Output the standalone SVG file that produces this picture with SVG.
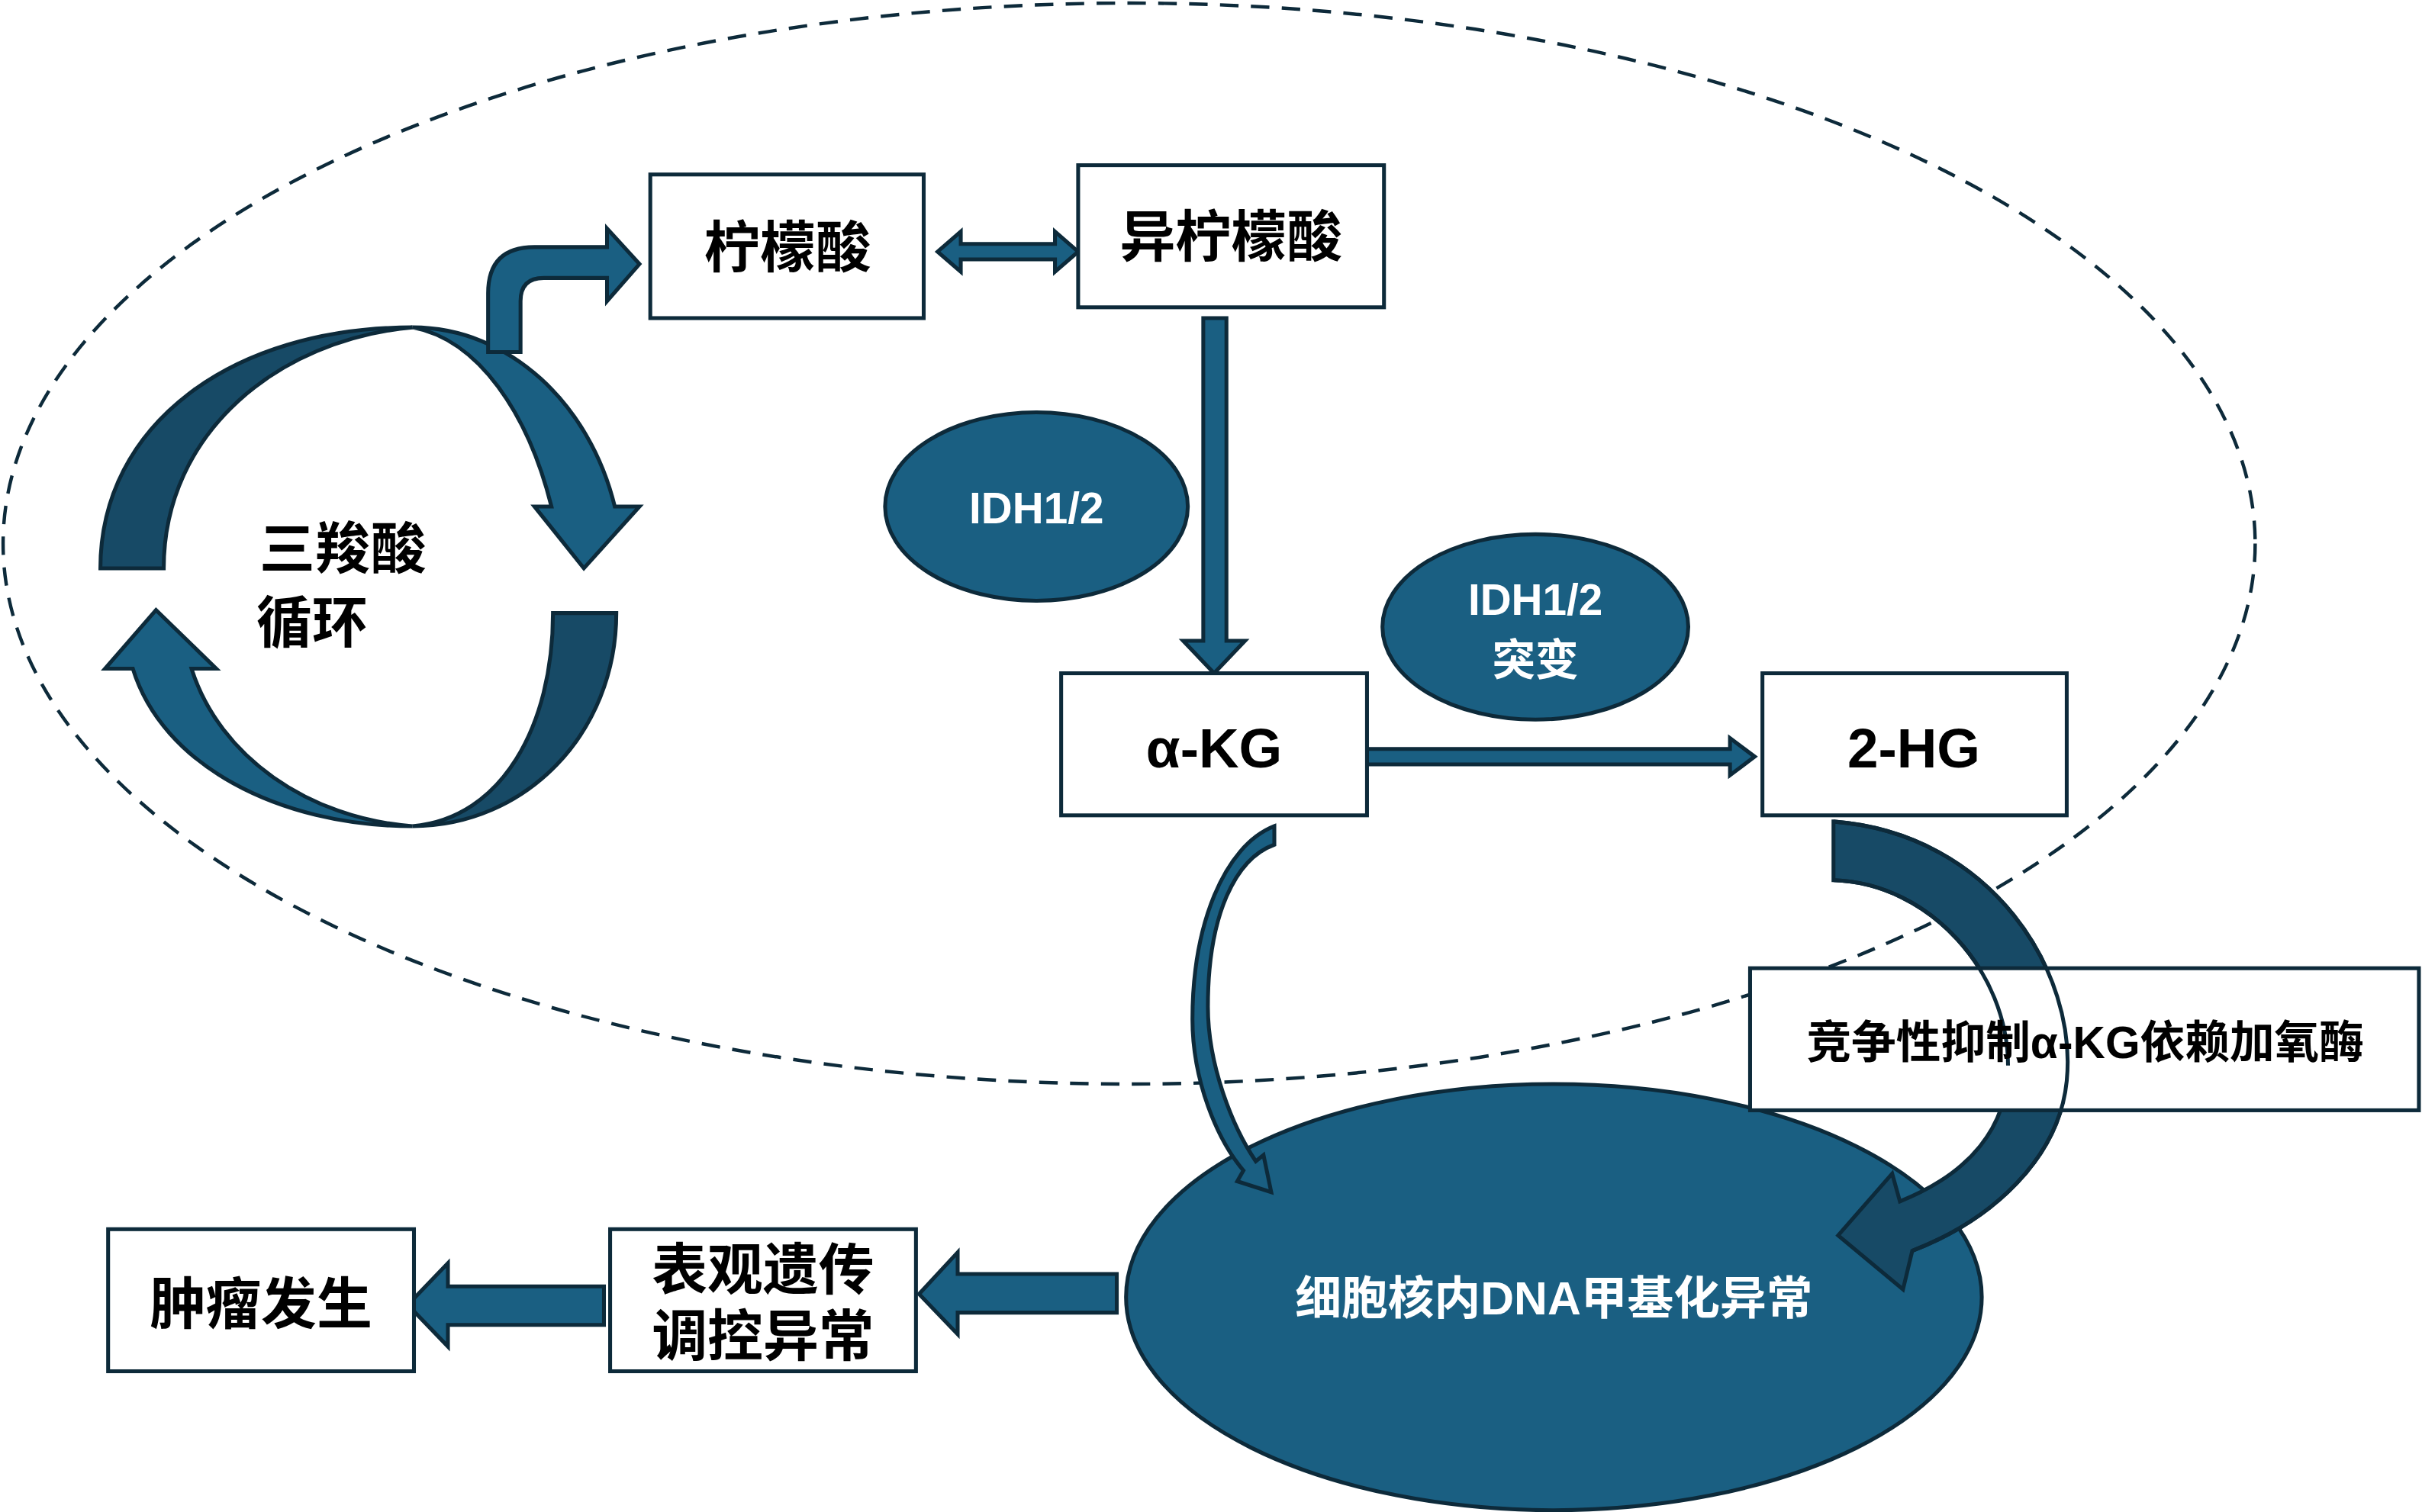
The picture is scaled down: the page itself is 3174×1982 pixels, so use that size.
<svg xmlns="http://www.w3.org/2000/svg" width="3174" height="1982" viewBox="0 0 3174 1982">
<style>
.box{fill:#fff;stroke:#0d2a3a;stroke-width:2.5}
.a{fill:#1a5f82;stroke:#0d2a3a;stroke-width:2.5;stroke-linejoin:miter}
.d{fill:#174a66;stroke:#0d2a3a;stroke-width:2.5}
.t{font-family:"Liberation Sans","Noto Sans CJK SC",sans-serif;font-weight:bold;fill:#000;text-anchor:middle}
.w{font-family:"Liberation Sans","Noto Sans CJK SC",sans-serif;font-weight:bold;fill:#fff;text-anchor:middle}
</style>
<rect width="3174" height="1982" fill="#fff"/>
<g transform="scale(2.02423)">
<ellipse id="boundary" cx="731" cy="352" rx="729" ry="350" fill="none" stroke="#0d2a3a" stroke-width="2.2" stroke-dasharray="12,8"/>
<g id="connectors">
<path class="d" d="M65,368 C65,275 150,212 267,212 C180,220 106,280 106,368 Z"/>
<path class="a" d="M267,212 C330,212 382,262 398,328 L414,328 L378,368 L346,328 L357,328 C342,268 310,220 267,212 Z"/>
<path class="d" d="M399,397 C399,475 340,535 267,535 C325,530 358,470 358,397 Z"/>
<path class="a" d="M267,535 C180,535 105,495 86,433 L68,433 L101,395 L140,433 L124,433 C142,490 200,530 267,535 Z"/>
<path class="a" d="M316,228 L316,190 Q316,160 346,160 L393,160 L393,148 L414,171 L393,195 L393,180 L352,180 Q337,180 337,195 L337,228 Z"/>
<path class="a" d="M607,163 L622,150 L622,158 L683,158 L683,150 L698,163 L683,176 L683,168 L622,168 L622,176 Z"/>
<path class="a" d="M779,206 L794,206 L794,415 L806,415 L786,436 L766,415 L779,415 Z"/>
<path class="a" d="M885,485 L1120,485 L1120,478 L1136,490 L1120,502 L1120,495 L885,495 Z"/>
<path class="a" d="M723,825 L620,825 L620,811 L595,838 L620,864 L620,850 L723,850 Z"/>
<path class="a" d="M391,833 L290,833 L290,818 L264,845 L290,872 L290,858 L391,858 Z"/>
</g>
<g id="n-citrate"><rect class="box" x="421" y="113" width="177" height="93"/><text class="t" x="510" y="173" font-size="36">柠檬酸</text></g>
<g id="n-isocitrate"><rect class="box" x="698" y="107" width="198" height="92"/><text class="t" x="797" y="166" font-size="36">异柠檬酸</text></g>
<g id="n-tca"><text class="t" x="222" y="368" font-size="36">三羧酸</text><text class="t" x="202" y="416" font-size="36">循环</text></g>
<g id="n-idh"><ellipse class="a" cx="671" cy="328" rx="98" ry="61"/><text class="w" x="671" y="339" font-size="28" font-weight="normal">IDH1/2</text></g>
<g id="n-idhmut"><ellipse class="a" cx="994" cy="406" rx="99" ry="60"/><text class="w" x="994" y="398" font-size="28">IDH1/2</text><text class="w" x="994" y="437" font-size="28">突变</text></g>
<g id="n-akg"><rect class="box" x="687" y="436" width="198" height="92"/><text class="t" x="786" y="497" font-size="36">α-KG</text></g>
<g id="n-2hg"><rect class="box" x="1141" y="436" width="197" height="92"/><text class="t" x="1239" y="497" font-size="36">2-HG</text></g>
<g id="n-methyl"><ellipse class="a" cx="1006" cy="840" rx="277" ry="138"/><text class="w" x="1006" y="851" font-size="30">细胞核内DNA甲基化异常</text></g>
<g id="n-akg-arrow"><path class="a" d="M825,535 C792,548 772,600 772,660 C772,700 788,738 805,758 L801,765 L823,772 L818,748 L813,752 C798,730 782,690 782,652 C782,592 800,556 825,547 Z"/></g>
<g id="n-2hg-arrow"><path class="d" d="M1187,532 C1290,540 1345,630 1338,700 C1333,750 1290,790 1238,810 L1232,835 L1190,800 L1225,760 L1230,778 C1275,760 1300,730 1300,690 C1300,630 1250,572 1187,570 Z"/></g>
<g id="n-inhibit"><rect class="box" x="1133" y="627" width="433" height="92"/>
<path d="M1187,532 C1290,540 1345,630 1338,700 C1333,750 1290,790 1238,810 M1300,690 C1300,630 1250,572 1187,570" fill="none" stroke="#0d2a3a" stroke-width="2.5"/>
<text class="t" x="1350" y="685" font-size="29">竞争性抑制α-KG依赖加氧酶</text></g>
<g id="n-epi"><rect class="box" x="395" y="796" width="198" height="92"/><text class="t" x="494" y="835" font-size="36">表观遗传</text><text class="t" x="494" y="878" font-size="36">调控异常</text></g>
<g id="n-tumor"><rect class="box" x="70" y="796" width="198" height="92"/><text class="t" x="169" y="857" font-size="36">肿瘤发生</text></g>
</g>
</svg>
